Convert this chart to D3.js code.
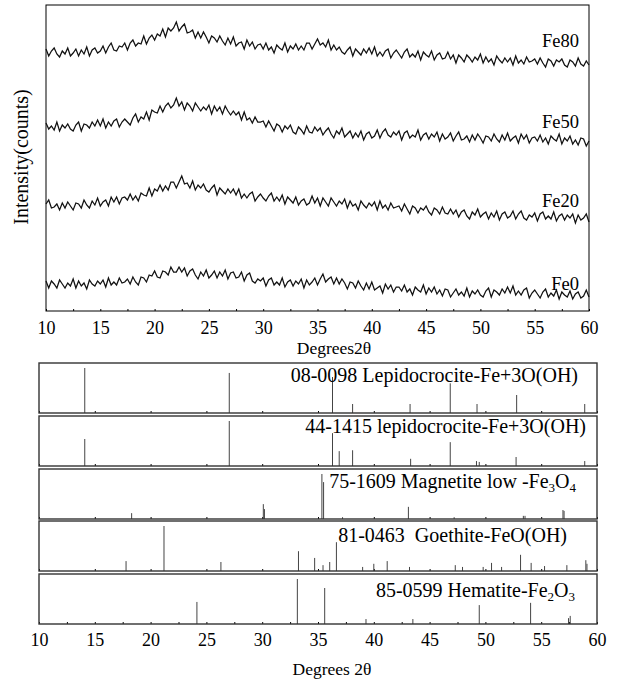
<!doctype html>
<html>
<head>
<meta charset="utf-8">
<style>
  body { margin: 0; background: #fff; }
  svg { display: block; font-family: "Liberation Serif", "Times New Roman", serif; }
  .tick line { stroke: #000; }
</style>
</head>
<body>
<svg id="chart" width="617" height="680"></svg>
<script src="https://cdn.jsdelivr.net/npm/d3@7/dist/d3.min.js"></script>
<script>
// --- XRD patterns of the samples, one value every 0.25 deg from 10 to 60 (stacked intensity, counts)
var angleStart = 10, angleStep = 0.25;
var sampleNames = ["Fe80", "Fe50", "Fe20", "Fe0"];

var fe80 = [262,255,260,263, 257,254,260,257, 263,255,258,262, 255,261,257,264, 255,261,263,258,
  260,265,258,264, 268,261,260,265, 264,268,261,268, 271,265,268,267, 275,267,273,276,
  271,277,275,282, 274,283,280,283, 289,280,284,287, 278,279,281,273, 279,273,279,274,
  268,275,273,269, 275,270,266,273, 267,274,265,268, 269,262,271,265, 269,262,266,267,
  262,268,261,264, 258,266,263,261, 268,259,265,262, 267,261,265,261, 268,268,262,267,
  272,266,268,264, 271,261,266,261, 264,259,257,261, 264,255,262,259, 256,262,258,263,
  257,264,255,259, 255,260,262,253, 258,261,257,253, 259,262,254,257, 254,260,251,259,
  256,254,260,251, 256,258,252,253, 259,252,256,248, 256,253,249,256, 253,249,254,251,
  257,248,254,249, 252,246,255,251, 248,253,249,253, 246,255,248,251, 247,254,249,250,
  252,247,253,248, 244,252,250,245, 251,249,252,246, 244,251,249,245, 253,247,245,250, 246];

var fe50 = [188,182,185,181, 189,180,186,183, 187,182,180,186, 189,180,187,186, 183,189,185,191,
  185,192,183,189, 185,190,192,184, 189,192,189,186, 193,197,189,194, 192,199,191,201,
  199,198,205,199, 205,208,203,206, 213,205,209,201, 208,205,200,208, 204,200,204,201,
  206,197,205,200, 204,197,205,200, 196,200,196,199, 191,199,191,193, 188,194,189,189,
  190,184,190,185, 180,187,185,179, 185,182,186,179, 177,184,181,177, 185,179,178,184,
  180,183,176,180, 183,177,173,180, 177,183,174,177, 180,173,178,174, 180,171,177,179,
  173,175,181,173, 179,182,176,174, 179,176,180,171, 178,180,173,176, 174,181,171,176,
  178,172,177,174, 179,170,177,172, 174,178,170,175, 179,171,172,175, 169,176,171,177,
  173,168,175,174, 170,177,172,169, 176,171,178,170, 173,175,168,177, 172,176,168,173,
  174,170,176,169, 173,167,175,172, 170,177,167,173, 170,175,167,171, 166,173,172,165, 170];

var fe20 = [107,111,103,104, 107,101,108,103, 109,105,101,108, 107,103,111,106, 103,110,106,113,
  105,109,111,105, 114,109,114,107, 113,114,111,117, 111,115,110,118, 116,115,123,115,
  122,120,126,120, 125,121,129,129, 123,129,135,127, 128,123,130,121, 126,123,127,121,
  119,123,126,116, 123,120,117,122, 118,122,116,122, 113,117,113,117, 119,110,114,117,
  113,110,115,118, 110,114,110,116, 107,114,111,108, 114,106,110,112, 106,108,115,108,
  113,105,113,109, 105,113,109,105, 110,107,112,103, 110,105,107,101, 110,106,103,108,
  105,109,101,110, 103,106,101,108, 103,104,105,100, 107,102,97,105, 103,98,103,101,
  105,99,96,103, 101,97,104,98, 97,102,97,101, 94,99,101,95, 92,99,96,102,
  94,97,99,92, 98,94,100,91, 97,99,93,95, 100,92,97,100, 93,91,96,94,
  98,90,97,99, 92,95,92,99, 90,95,97,91, 96,93,97,88, 96,91,93,97, 89];

var fe0 = [30,23,30,27, 23,31,27,23, 28,25,32,23, 30,25,28,22, 31,27,25,30,
  27,31,24,33, 26,29,26,33, 28,29,32,27, 34,29,26,34, 33,29,36,35,
  40,34,33,40, 39,36,44,39, 39,44,39,43, 35,40,42,36, 32,39,35,41,
  33,36,40,33, 39,35,41,32, 38,39,33,34, 39,30,36,38, 30,28,32,30,
  33,25,31,33, 26,29,26,33, 24,29,31,25, 30,27,32,23, 31,26,29,33,
  26,32,37,29, 32,34,27,33, 27,32,28,22, 29,28,23,30, 25,21,28,22,
  29,21,23,25, 18,27,22,26, 19,24,24,20, 26,19,22,16, 24,21,19,26,
  17,23,19,24, 17,21,15,22, 21,14,18,22, 16,19,15,23, 14,20,17,21,
  16,14,20,23, 14,21,19,16, 22,18,24,18, 25,16,20,16, 21,23,13,18,
  21,17,13,19, 22,14,18,15, 21,12,19,16, 14,20,12,17, 19,13,15,21, 14];

// --- reference cards: positions (deg 2theta) and relative intensities
var cardLabels = [
  "08-0098 Lepidocrocite-Fe+3O(OH)",
  "44-1415 lepidocrocite-Fe+3O(OH)",
  "75-1609 Magnetite low -Fe3O4",
  "81-0463  Goethite-FeO(OH)",
  "85-0599 Hematite-Fe2O3"
];
var lepido08Pos = [14.1, 27.05, 36.3, 38.1, 43.25, 46.85, 49.25, 52.8, 58.9];
var lepido08Int = [100, 89, 80, 20, 20, 66, 20, 40, 20];
var lepido44Pos = [14.1, 27.05, 36.3, 36.9, 38.1, 43.3, 46.85, 49.2, 49.45, 52.75, 58.9];
var lepido44Int = [60, 100, 73, 33, 35, 16, 53, 11, 9, 20, 11];
var magnetPos = [18.3, 30.1, 30.2, 35.35, 35.5, 37.2, 43.1, 47.2, 53.4, 53.55, 56.95, 57.05];
var magnetInt = [13, 33, 22, 100, 82, 4, 27, 4, 7, 7, 20, 18];
var goethPos = [17.8, 21.2, 26.3, 33.25, 34.7, 35.45, 36.05, 36.65, 39.0, 40.0, 41.2, 43.2,
  47.3, 47.95, 49.8, 50.55, 51.45, 53.15, 54.1, 55.3, 57.3, 59.0, 59.1];
var goethInt = [22, 100, 20, 44, 29, 13, 20, 64, 9, 16, 22, 9,
  13, 9, 9, 18, 9, 36, 18, 11, 13, 24, 16];
var hemPos = [24.15, 33.15, 35.6, 39.3, 43.5, 49.45, 54.05, 57.45, 57.6];
var hemInt = [49, 100, 80, 11, 11, 42, 47, 13, 18];

var xTicks = [10, 15, 20, 25, 30, 35, 40, 45, 50, 55, 60];

var svg = d3.select("#chart");

// ================= top panel: measured patterns =================
var box = {left: 46, right: 589, top: 5, bottom: 311};
var x1 = d3.scaleLinear().domain([10, 60]).range([box.left, box.right]);
var y1 = d3.scaleLinear().domain([0, 306]).range([box.bottom, box.top]);

svg.append("rect")
  .attr("x", box.left).attr("y", box.top)
  .attr("width", box.right - box.left).attr("height", box.bottom - box.top)
  .attr("fill", "none").attr("stroke", "#000").attr("stroke-width", 1);

var minorTicks = d3.range(10, 60.01, 2.5);
svg.append("g")
  .attr("font-family", "Liberation Serif")
  .attr("transform", "translate(0," + box.bottom + ")")
  .call(d3.axisBottom(x1).tickValues(minorTicks).tickSize(-2).tickPadding(10)
    .tickFormat(function(d) { return d % 5 === 0 ? d : ""; }))
  .call(function(g) { g.select(".domain").remove(); })
  .selectAll("text").attr("font-size", 18).attr("font-family", "Liberation Serif").attr("fill", "#000");

var line = d3.line()
  .x(function(d, i) { return x1(angleStart + i * angleStep); })
  .y(function(d) { return y1(d); });

var series = [fe80, fe50, fe20, fe0];
series.forEach(function(s) {
  svg.append("path")
    .datum(s)
    .attr("d", line)
    .attr("fill", "none")
    .attr("stroke", "#111")
    .attr("stroke-width", 1.25);
});

// sample labels just above the right end of each curve
var labelY = [47, 128, 207, 290];
sampleNames.forEach(function(n, i) {
  svg.append("text")
    .attr("x", 579).attr("y", labelY[i])
    .attr("text-anchor", "end")
    .attr("font-size", 18.5)
    .text(n);
});

svg.append("text")
  .attr("transform", "translate(28,157) rotate(-90)")
  .attr("text-anchor", "middle")
  .attr("font-size", 20)
  .text("Intensity(counts)");

svg.append("text")
  .attr("x", 334).attr("y", 354)
  .attr("text-anchor", "middle")
  .attr("font-size", 17.5)
  .text("Degrees2\u03b8");

// ================= bottom: reference stick patterns =================
var x2 = d3.scaleLinear().domain([10, 60]).range([39, 597]);
var panelTops = [363, 416, 469, 521, 574];
var panelH = 50;
var cards = [
  {pos: lepido08Pos, ints: lepido08Int},
  {pos: lepido44Pos, ints: lepido44Int},
  {pos: magnetPos, ints: magnetInt},
  {pos: goethPos, ints: goethInt},
  {pos: hemPos, ints: hemInt}
];
var labelRight = [578, 586, 576, 567, 575];
var labelBase = [382, 433, 488, 542, 597];

cards.forEach(function(c, k) {
  var y0 = panelTops[k] + panelH;
  var yk = d3.scaleLinear().domain([0, 100]).range([y0, y0 - 45]);
  var g = svg.append("g");

  var ticks = k === 4 ? minorTicks : xTicks;
  g.append("g")
    .attr("font-family", "Liberation Serif")
    .attr("transform", "translate(0," + y0 + ")")
    .call(d3.axisBottom(x2).tickValues(ticks).tickSize(-2)
      .tickFormat(k === 4 ? function(d) { return d % 5 === 0 ? d : ""; } : ""))
    .call(function(a) { a.select(".domain").remove(); })
    .selectAll("text").attr("font-size", 18).attr("font-family", "Liberation Serif")
      .attr("fill", "#000").attr("dy", "0.71em").attr("y", 9);

  g.selectAll("line.stick")
    .data(c.pos)
    .enter().append("line")
      .attr("class", "stick")
      .attr("x1", function(d) { return x2(d); })
      .attr("x2", function(d) { return x2(d); })
      .attr("y1", y0)
      .attr("y2", function(d, i) { return yk(c.ints[i]); })
      .attr("stroke", "#444")
      .attr("stroke-width", 1);

  g.append("rect")
    .attr("x", x2(10)).attr("y", panelTops[k])
    .attr("width", x2(60) - x2(10)).attr("height", panelH)
    .attr("fill", "none").attr("stroke", "#333").attr("stroke-width", 1.4);

  // card label; formula digits of Fe3O4 / Fe2O3 set as subscripts
  var label = cardLabels[k];
  var t = g.append("text")
    .attr("x", labelRight[k]).attr("y", labelBase[k])
    .attr("text-anchor", "end")
    .attr("font-size", 20)
    .style("white-space", "pre");
  var f = label.match(/Fe(\d)O(\d)$/);
  if (f) {
    t.append("tspan").text(label.slice(0, label.length - f[0].length) + "Fe");
    t.append("tspan").attr("font-size", 13).attr("dy", 4).text(f[1]);
    t.append("tspan").attr("dy", -4).text("O");
    t.append("tspan").attr("font-size", 13).attr("dy", 4).text(f[2]);
  } else {
    t.text(label);
  }
});

svg.append("text")
  .attr("x", 332).attr("y", 675)
  .attr("text-anchor", "middle")
  .attr("font-size", 17.5)
  .text("Degrees 2\u03b8");
</script>
</body>
</html>
